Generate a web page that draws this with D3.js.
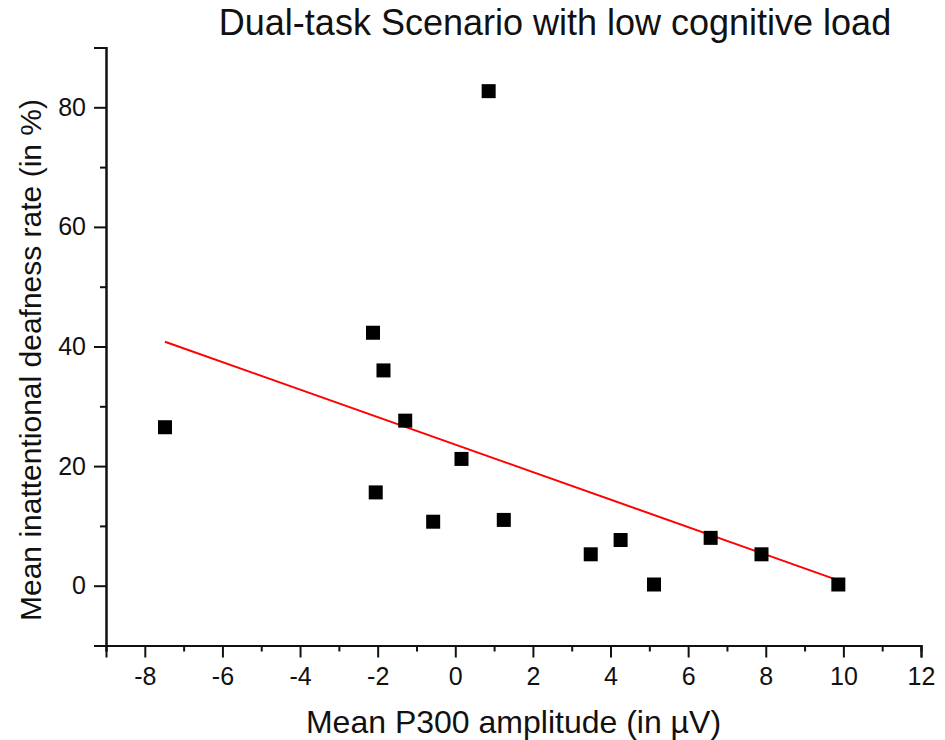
<!DOCTYPE html>
<html>
<head>
<meta charset="utf-8">
<script src="https://cdn.jsdelivr.net/npm/d3@7"></script>
<style>
  html, body { margin: 0; padding: 0; background: #fff; }
  svg { display: block; font-family: Arial, "Liberation Sans", sans-serif; }
</style>
</head>
<body>
<svg id="chart" width="945" height="740"></svg>
<script>
// ---- data ----
const titleText = "Dual-task Scenario with low cognitive load";
const xTitle = "Mean P300 amplitude (in µV)";
const yTitle = "Mean inattentional deafness rate (in %)";

const p300Amplitude = [-7.48, -2.12, -1.85, -1.29, -2.05, -0.57, 0.16, 0.86, 1.25, 3.49, 4.26, 5.12, 6.58, 7.89, 9.87];
const deafnessRate  = [26.5, 42.3, 36.0, 27.6, 15.6, 10.7, 21.2, 82.7, 11.0, 5.25, 7.64, 0.2, 8.0, 5.25, 0.2];

// fitted line end points as drawn
const fitX = [-7.48, 9.87];
const fitY = [40.8, 0.9];

const xMajorTicks = [-8, -6, -4, -2, 0, 2, 4, 6, 8, 10, 12];
const xMinorTicks = [-9, -7, -5, -3, -1, 1, 3, 5, 7, 9, 11];
const yMajorTicks = [0, 20, 40, 60, 80];
const yMinorTicks = [-10, 10, 30, 50, 70, 90];

// ---- drawing ----
const svg = d3.select("#chart");
const x = d3.scaleLinear().domain([-9, 12]).range([106, 921]);
const y = d3.scaleLinear().domain([-10, 90]).range([645.5, 47.5]);

const axisColor = "#111";
const fontFam = "Arial, 'Liberation Sans', sans-serif";

// minor ticks
const gxMinor = svg.append("g").attr("transform", `translate(0,${y(-10)})`)
  .call(d3.axisBottom(x).tickValues(xMinorTicks).tickSize(6).tickFormat(""));
const gyMinor = svg.append("g").attr("transform", `translate(${x(-9)},0)`)
  .call(d3.axisLeft(y).tickValues(yMinorTicks).tickSize(6).tickFormat(""));

// major ticks with labels
const gx = svg.append("g").attr("transform", `translate(0,${y(-10)})`)
  .call(d3.axisBottom(x).tickValues(xMajorTicks).tickSize(12).tickPadding(10).tickFormat(d3.format("d")));
const gy = svg.append("g").attr("transform", `translate(${x(-9)},0)`)
  .call(d3.axisLeft(y).tickValues(yMajorTicks).tickSize(12).tickPadding(8).tickFormat(d3.format("d")));

[gxMinor, gyMinor, gx, gy].forEach(g => {
  g.attr("font-size", null).attr("font-family", null);
  g.select(".domain").attr("stroke", axisColor).attr("stroke-width", 2);
  g.selectAll(".tick line").attr("stroke", axisColor).attr("stroke-width", 2);
  g.selectAll(".tick text").attr("fill", "#111")
    .attr("font-size", 25).attr("font-family", fontFam);
});
gx.selectAll(".tick text").text(d => d < 0 ? "-" + Math.abs(d) : d);
gy.selectAll(".tick text").text(d => d);

// fit line
svg.append("line")
  .attr("x1", x(fitX[0])).attr("y1", y(fitY[0]))
  .attr("x2", x(fitX[1])).attr("y2", y(fitY[1]))
  .attr("stroke", "#ff0000").attr("stroke-width", 2);

// points
const size = 14;
svg.append("g").selectAll("rect")
  .data(p300Amplitude.map((v, i) => [v, deafnessRate[i]]))
  .join("rect")
  .attr("x", d => x(d[0]) - size / 2)
  .attr("y", d => y(d[1]) - size / 2)
  .attr("width", size).attr("height", size)
  .attr("fill", "#000");

// titles
svg.append("text")
  .attr("x", 555).attr("y", 35)
  .attr("text-anchor", "middle")
  .attr("font-size", 36).attr("fill", "#111")
  .text(titleText);

svg.append("text")
  .attr("x", (x(-9) + x(12)) / 2).attr("y", 733)
  .attr("text-anchor", "middle")
  .attr("font-size", 32).attr("fill", "#111")
  .text(xTitle);

svg.append("text")
  .attr("transform", "translate(41,360) rotate(-90)")
  .attr("text-anchor", "middle")
  .attr("font-size", 30).attr("fill", "#111")
  .text(yTitle);
</script>
</body>
</html>
